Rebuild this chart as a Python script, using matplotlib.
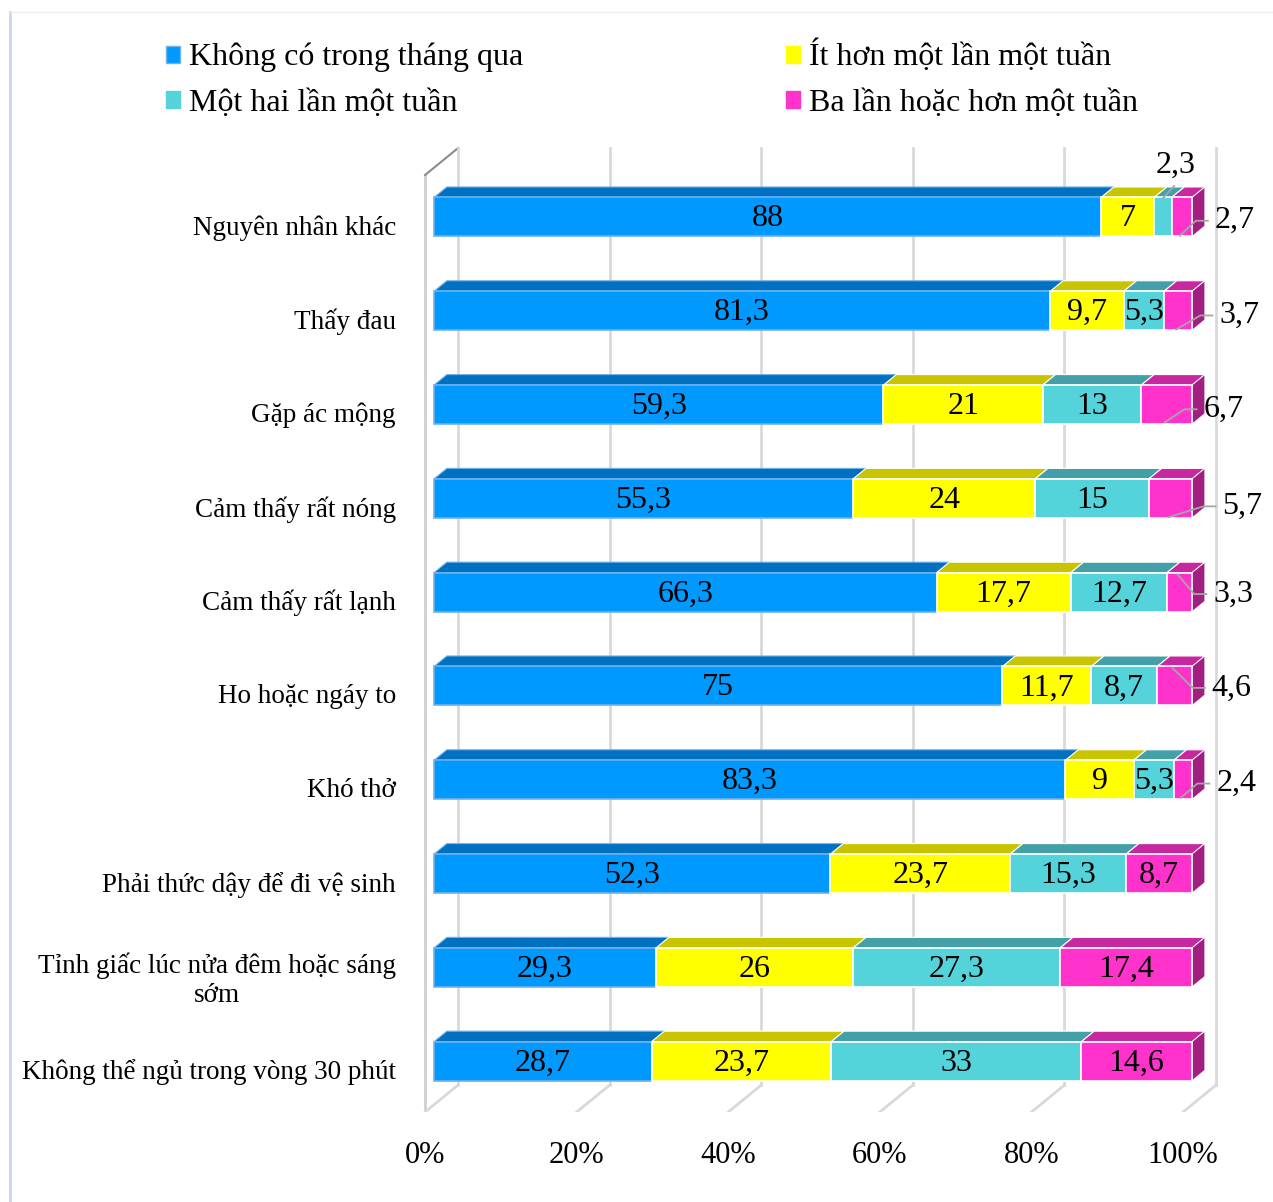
import numpy as np
import matplotlib.pyplot as plt
from matplotlib.patches import Rectangle, Polygon, Patch

plt.rcParams['font.family'] = ['Liberation Serif', 'DejaVu Serif']

categories = [
    'Nguyên nhân khác',
    'Thấy đau',
    'Gặp ác mộng',
    'Cảm thấy rất nóng',
    'Cảm thấy rất lạnh',
    'Ho hoặc ngáy to',
    'Khó thở',
    'Phải thức dậy để đi vệ sinh',
    'Tỉnh giấc lúc nửa đêm hoặc sáng\nsớm',
    'Không thể ngủ trong vòng 30 phút',
]
series_names = [
    'Không có trong tháng qua',
    'Ít hơn một lần một tuần',
    'Một hai lần một tuần',
    'Ba lần hoặc hơn một tuần',
]
khong_co = [88, 81.3, 59.3, 55.3, 66.3, 75, 83.3, 52.3, 29.3, 28.7]
it_hon = [7, 9.7, 21, 24, 17.7, 11.7, 9, 23.7, 26, 23.7]
mot_hai = [2.3, 5.3, 13, 15, 12.7, 8.7, 5.3, 15.3, 27.3, 33]
ba_lan = [2.7, 3.7, 6.7, 5.7, 3.3, 4.6, 2.4, 8.7, 17.4, 14.6]
series = [khong_co, it_hon, mot_hai, ba_lan]
xtick_values = [0, 20, 40, 60, 80, 100]

# labels placed outside the bar: (row, series, label x, label y shift, leader start y)
outside = [
    (0, 3, 103.0, 0.04, 0.2),
    (1, 3, 103.6, 0.05, 0.2),
    (2, 3, 101.5, 0.05, 0.19),
    (3, 3, 104.0, 0.085, 0.2),
    (4, 3, 102.8, 0.02, -0.19),
    (5, 3, 102.6, 0.02, -0.19),
    (6, 3, 103.2, 0.04, 0.19),
]
above = [(0, 2)]

front_colors = ['#0099ff', '#ffff00', '#55d3db', '#ff33cc']
top_colors = ['#0070c0', '#c8c400', '#44a0a8', '#c8289f']
side_color = '#a01f80'
edge_colors = ['#6fb2ec', 'white', 'white', 'white']

W, H = 1273, 1202
fig = plt.figure(figsize=(W / 100, H / 100), dpi=100)
L, R, T, B = 405, 1273, 120, 1112
ax = fig.add_axes([L / W, 1 - B / H, (R - L) / W, (B - T) / H])
px_pct = 7.58
px_row = 93.8
ax.set_xlim((L - 434) / px_pct, (R - 434) / px_pct)
ax.set_ylim((B - 217) / px_row, (T - 217) / px_row)

# oblique depth: t=0 front of floor, t=1 back wall
DX = 33 / px_pct
DY = -27 / px_row
T_FRONT, T_BACK = 0.27, 0.66


def xd(p, t):
    return p + (t - T_FRONT) * DX


floor0 = (B - 217) / px_row
top0 = (175 - 217) / px_row

# walls and gridlines
ax.plot([xd(0, 0), xd(0, 0)], [floor0, top0], color='#cfcfcf', lw=2, zorder=1)
ax.plot([xd(0, 0), xd(0, 1)], [top0, top0 + DY], color='#8c8c8c', lw=1.5, zorder=1)
for p in xtick_values:
    ax.plot([xd(p, 1), xd(p, 1)], [floor0 + DY, top0 + DY], color='#d9d9d9', lw=2, zorder=1)
    ax.plot([xd(p, 0), xd(p, 1)], [floor0, floor0 + DY], color='#d9d9d9', lw=2, zorder=1)

h = 39 / px_row
dx = (T_BACK - T_FRONT) * DX
dy = (T_BACK - T_FRONT) * DY


def fmt(v):
    return f'{v:g}'.replace('.', ',')


vals = np.array(series)
starts = np.vstack([np.zeros(len(categories)), np.cumsum(vals, axis=0)[:-1]])
special = {(r, s) for r, s, *_ in outside} | set(above)
FS = 23

for r in range(len(categories)):
    for s in range(len(series)):
        v = vals[s, r]
        x0 = starts[s, r]
        ytop = r - h / 2
        ax.add_patch(Polygon([(x0, ytop), (x0 + v, ytop), (x0 + v + dx, ytop + dy), (x0 + dx, ytop + dy)],
                             closed=True, fc=top_colors[s], ec=edge_colors[s], lw=0.8, zorder=3))
        ax.add_patch(Rectangle((x0, ytop), v, h, fc=front_colors[s], ec=edge_colors[s], lw=1.2, zorder=4))
        if s == len(series) - 1:
            xe = x0 + v
            ax.add_patch(Polygon([(xe, ytop), (xe + dx, ytop + dy), (xe + dx, ytop + h + dy), (xe, ytop + h)],
                                 closed=True, fc=side_color, ec='white', lw=0.6, zorder=3))
        if (r, s) not in special:
            ax.text(x0 + v / 2, r + 0.02, fmt(v), ha='center', va='center', fontsize=FS, zorder=6)

# labels with leader lines
for r, s, lx, ldy, sdy in outside:
    c = starts[s, r] + vals[s, r] / 2 - 0.25
    ax.plot([c, lx - 2.5, lx - 0.9], [r + sdy, r + ldy, r + ldy], color='#a6a6a6', lw=1.3, zorder=5)
    ax.text(lx, r + ldy, fmt(vals[s, r]), ha='left', va='center', fontsize=FS, zorder=6)
for r, s in above:
    c = starts[s, r] + vals[s, r] / 2
    ax.plot([c, c + 1.5], [r - 0.2, r - 0.33], color='#a6a6a6', lw=1.3, zorder=5)
    ax.text(c + 1.7, r - 0.55, fmt(vals[s, r]), ha='center', va='center', fontsize=FS, zorder=6)

ax.set_xticks([xd(p, 0) for p in xtick_values], [f'{p}%' for p in xtick_values])
ax.set_yticks(np.arange(len(categories)) + 0.085, categories)
ax.tick_params(axis='x', length=0, labelsize=22, pad=21)
ax.tick_params(axis='y', length=0, labelsize=19.5, pad=6.5)
for lab in ax.get_yticklabels():
    lab.set_multialignment('center')
for sp in ax.spines.values():
    sp.set_visible(False)

order = [0, 2, 1, 3]
handles = [Patch(fc=front_colors[i], ec=edge_colors[i] if i == 0 else front_colors[i]) for i in order]
fig.legend(handles, [series_names[i] for i in order], ncol=2, loc='upper left',
           bbox_to_anchor=(166 / W, 1 - 40 / H), frameon=False, fontsize=23,
           handlelength=0.45, handleheight=0.45, handletextpad=0.28,
           columnspacing=8.2, labelspacing=0.52, borderpad=0, borderaxespad=0)

# chart frame
fig.add_artist(plt.Line2D([10 / W, 10 / W], [0, 1 - 12 / H], color='#c9d5ee', lw=2))
fig.add_artist(plt.Line2D([10 / W, 1], [1 - 12 / H, 1 - 12 / H], color='#ececf4', lw=1))

fig.savefig('out.png', dpi=100)
